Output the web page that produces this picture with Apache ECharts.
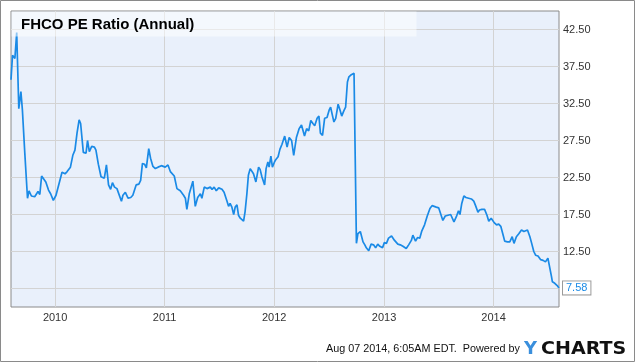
<!DOCTYPE html>
<html>
<head>
<meta charset="utf-8">
<script src="https://cdn.jsdelivr.net/npm/echarts@6/dist/echarts.min.js"></script>
<style>
html,body{margin:0;padding:0;background:#fff;}
#chart{width:635px;height:362px;}
</style>
</head>
<body>
<div id="chart"></div>
<script>
var titleText = 'FHCO PE Ratio (Annual)';
var footerText = 'Aug 07 2014, 6:05AM EDT.  Powered by';
var yTickValues = [7.5, 12.5, 17.5, 22.5, 27.5, 32.5, 37.5, 42.5];
var xTickYears = [2010, 2011, 2012, 2013, 2014];
var xStart = '2009-08-07';
var xEnd = '2014-08-07';

var dates = [
'2009-08-07','2009-08-12','2009-08-17','2009-08-20','2009-08-26','2009-09-02','2009-09-09','2009-09-14','2009-09-22','2009-10-01',
'2009-10-06','2009-10-14','2009-10-25','2009-11-05','2009-11-11','2009-11-17','2009-12-01','2009-12-10','2009-12-17','2009-12-26',
'2010-01-04','2010-01-10','2010-01-24','2010-02-03','2010-02-10','2010-02-21','2010-03-01','2010-03-08','2010-03-15','2010-03-22',
'2010-03-27','2010-04-05','2010-04-14','2010-04-19','2010-04-25','2010-05-03','2010-05-12','2010-05-17','2010-05-25','2010-06-03',
'2010-06-14','2010-06-21','2010-06-28','2010-07-05','2010-07-11','2010-07-18','2010-07-26','2010-08-01','2010-08-10','2010-08-15',
'2010-08-23','2010-09-01','2010-09-10','2010-09-17','2010-09-28','2010-10-07','2010-10-13','2010-10-19','2010-10-26','2010-11-01',
'2010-11-09','2010-11-15','2010-11-23','2010-12-01','2010-12-10','2010-12-21','2011-01-03','2011-01-12','2011-01-20','2011-01-25',
'2011-02-02','2011-02-11','2011-02-22','2011-03-05','2011-03-11','2011-03-16','2011-03-24','2011-04-05','2011-04-13','2011-04-21',
'2011-04-30','2011-05-05','2011-05-13','2011-05-22','2011-06-02','2011-06-08','2011-06-15','2011-06-22','2011-06-30','2011-07-11',
'2011-07-18','2011-07-27','2011-08-02','2011-08-07','2011-08-13','2011-08-19','2011-08-24','2011-08-30','2011-09-04','2011-09-10',
'2011-09-21','2011-09-26','2011-10-02','2011-10-07','2011-10-13','2011-10-19','2011-10-24','2011-11-01','2011-11-10','2011-11-15',
'2011-11-21','2011-11-30','2011-12-05','2011-12-11','2011-12-15','2011-12-21','2011-12-26','2012-01-02','2012-01-06','2012-01-14',
'2012-01-20','2012-01-27','2012-02-05','2012-02-13','2012-02-20','2012-02-28','2012-03-06','2012-03-15','2012-03-24','2012-04-01',
'2012-04-11','2012-04-18','2012-04-25','2012-05-02','2012-05-09','2012-05-15','2012-05-23','2012-05-29','2012-06-03','2012-06-10',
'2012-06-17','2012-06-25','2012-07-02','2012-07-07','2012-07-13','2012-07-18','2012-07-24','2012-08-01','2012-08-06','2012-08-13',
'2012-08-20','2012-08-26','2012-09-01','2012-09-06','2012-09-14','2012-09-23','2012-09-27','2012-10-01','2012-10-06','2012-10-14',
'2012-10-23','2012-10-29','2012-11-03','2012-11-11','2012-11-19','2012-11-27','2012-12-04','2012-12-11','2012-12-18','2012-12-27',
'2013-01-02','2013-01-09','2013-01-16','2013-01-26','2013-02-05','2013-02-16','2013-02-24','2013-03-05','2013-03-16','2013-03-24',
'2013-04-02','2013-04-07','2013-04-16','2013-04-23','2013-04-30','2013-05-07','2013-05-16','2013-05-25','2013-06-03','2013-06-10',
'2013-06-16','2013-06-24','2013-07-02','2013-07-08','2013-07-16','2013-07-24','2013-08-02','2013-08-11','2013-08-22','2013-08-30',
'2013-09-06','2013-09-11','2013-09-17','2013-09-24','2013-10-01','2013-10-10','2013-10-19','2013-10-27','2013-11-02','2013-11-10',
'2013-11-15','2013-11-23','2013-12-02','2013-12-10','2013-12-16','2013-12-24','2014-01-03','2014-01-11','2014-01-18','2014-01-25',
'2014-02-02','2014-02-07','2014-02-16','2014-02-24','2014-03-04','2014-03-10','2014-03-18','2014-03-26','2014-04-04','2014-04-12',
'2014-04-18','2014-04-24','2014-05-02','2014-05-08','2014-05-15','2014-05-21','2014-05-29','2014-06-07','2014-06-15','2014-06-23',
'2014-07-01','2014-07-07','2014-07-13','2014-07-16','2014-07-24','2014-08-01','2014-08-07'
];

var peValues = [
35.7,39.0,38.8,38.6,42.1,31.8,34.1,31.6,25.8,19.7,
20.7,20.0,19.9,20.6,20.2,22.7,21.9,20.8,20.3,19.4,
20.1,20.0,23.2,23.0,23.3,23.9,25.5,26.2,28.5,30.3,
29.8,25.9,25.8,27.5,26.0,26.7,26.6,26.2,24.3,22.6,
22.4,24.2,21.5,20.9,21.8,21.2,21.0,20.8,19.3,20.1,
20.5,19.7,19.8,20.1,21.5,21.6,22.1,24.4,24.3,23.8,
26.4,25.1,24.0,23.7,23.9,24.1,23.9,24.2,23.3,23.5,
22.7,21.0,20.7,20.1,19.7,18.2,20.3,22.0,18.6,19.8,
20.3,19.7,21.2,21.0,21.2,20.9,21.2,20.7,21.1,20.9,
20.5,19.4,18.6,19.0,18.5,17.5,18.5,18.8,17.4,17.0,
16.6,17.9,20.3,22.8,23.7,23.9,23.0,21.9,23.9,23.6,
22.6,21.5,23.7,24.6,23.9,25.4,23.9,24.6,24.9,25.3,
26.3,27.0,28.1,26.6,27.9,27.5,25.5,27.9,29.1,29.6,
28.1,29.1,28.8,30.2,29.8,29.5,30.5,30.8,28.5,28.2,
30.5,30.6,31.6,32.0,30.9,30.0,30.5,32.4,31.8,30.8,
31.5,32.0,35.4,36.1,36.4,36.6,36.6,13.6,14.9,15.2,
13.8,13.4,13.0,12.6,13.5,13.4,13.0,13.5,13.2,13.0,
13.7,13.6,14.3,14.6,14.0,13.5,13.4,13.2,12.9,13.4,
14.0,14.7,13.9,14.4,14.3,15.3,16.1,17.3,18.3,18.7,
18.8,18.5,18.4,18.2,16.7,17.3,17.4,17.5,16.5,17.2,
18.0,17.5,19.0,20.0,19.8,19.7,19.6,19.3,18.7,17.8,
18.1,18.2,18.2,17.4,16.6,17.0,16.4,16.1,16.2,15.9,
14.7,13.9,13.8,13.8,14.5,13.6,14.5,14.9,15.4,15.2,
15.4,15.4,14.5,13.6,12.5,12.0,11.9,11.4,11.3,11.1,
11.6,11.4,9.1,8.4,8.2,7.9,7.58
];

function ts(s) { var p = s.split('-'); return Date.UTC(+p[0], +p[1] - 1, +p[2]); }
var seriesData = dates.map(function (d, i) { return [ts(d), peValues[i]]; });
var yearStamps = xTickYears.map(function (y) { return Date.UTC(y, 0, 1); });

var chart = echarts.init(document.getElementById('chart'), null, {renderer: 'canvas'});
chart.setOption({
  animation: false,
  backgroundColor: '#ffffff',
  grid: {
    left: 11, top: 11, right: 76, bottom: 55,
    show: true,
    backgroundColor: '#e9f0fb',
    borderColor: '#8a8a8a',
    borderWidth: 1
  },
  xAxis: {
    type: 'value',
    min: ts(xStart),
    max: ts(xEnd),
    axisLine: {show: false},
    axisTick: {show: false, customValues: yearStamps},
    axisLabel: {
      customValues: yearStamps,
      formatter: function (v) { return String(new Date(v).getUTCFullYear()); },
      color: '#333',
      fontFamily: 'Liberation Sans, Arial, sans-serif',
      fontSize: 11,
      margin: 5
    },
    splitLine: {show: true, lineStyle: {color: '#d3d3d3', width: 1}}
  },
  yAxis: {
    type: 'value',
    position: 'right',
    min: 5,
    max: 45,
    axisLine: {show: false},
    axisTick: {show: false, customValues: yTickValues},
    axisLabel: {
      customValues: yTickValues,
      formatter: function (v) { return v.toFixed(2); },
      color: '#333',
      fontFamily: 'Liberation Sans, Arial, sans-serif',
      fontSize: 11,
      margin: 4
    },
    splitLine: {show: true, lineStyle: {color: '#d3d3d3', width: 1}}
  },
  series: [{
    type: 'line',
    data: seriesData,
    showSymbol: false,
    symbol: 'none',
    lineStyle: {color: '#1a8ae6', width: 1.7},
    endLabel: {
      show: true,
      formatter: function (p) { return p.value[1].toFixed(2); },
      color: '#1a8ae6',
      fontFamily: 'Liberation Sans, Arial, sans-serif',
      fontSize: 11,
      backgroundColor: '#ffffff',
      borderColor: '#9a9a9a',
      borderWidth: 1,
      padding: [1, 3, 1, 3],
      distance: 4
    }
  }],
  graphic: [
    {type: 'rect', shape: {x: 11.5, y: 11.5, width: 405, height: 25}, style: {fill: 'rgba(255,255,255,0.5)'}, z: 50},
    {type: 'text', left: 21, top: 17, style: {text: titleText, fill: '#000', font: 'bold 15px "Liberation Sans", Arial, sans-serif'}, z: 51},
    {type: 'text', left: 326, top: 344, style: {text: footerText, fill: '#111', font: '10.8px "Liberation Sans", Arial, sans-serif'}, z: 51},
    {type: 'text', x: 524, y: 340, style: {text: 'Y', fill: '#3a8fdc', font: 'bold 18px "DejaVu Sans", sans-serif'}, z: 51},
    {type: 'text', x: 541, y: 340, scaleX: 1.06, style: {text: 'CHARTS', fill: '#111', font: 'bold 18px "DejaVu Sans", sans-serif'}, z: 51},
    {type: 'rect', shape: {x: 0.5, y: 0.5, width: 634, height: 361}, style: {fill: 'none', stroke: '#8a8a8a', lineWidth: 1}, z: 60}
  ]
});
</script>
</body>
</html>
